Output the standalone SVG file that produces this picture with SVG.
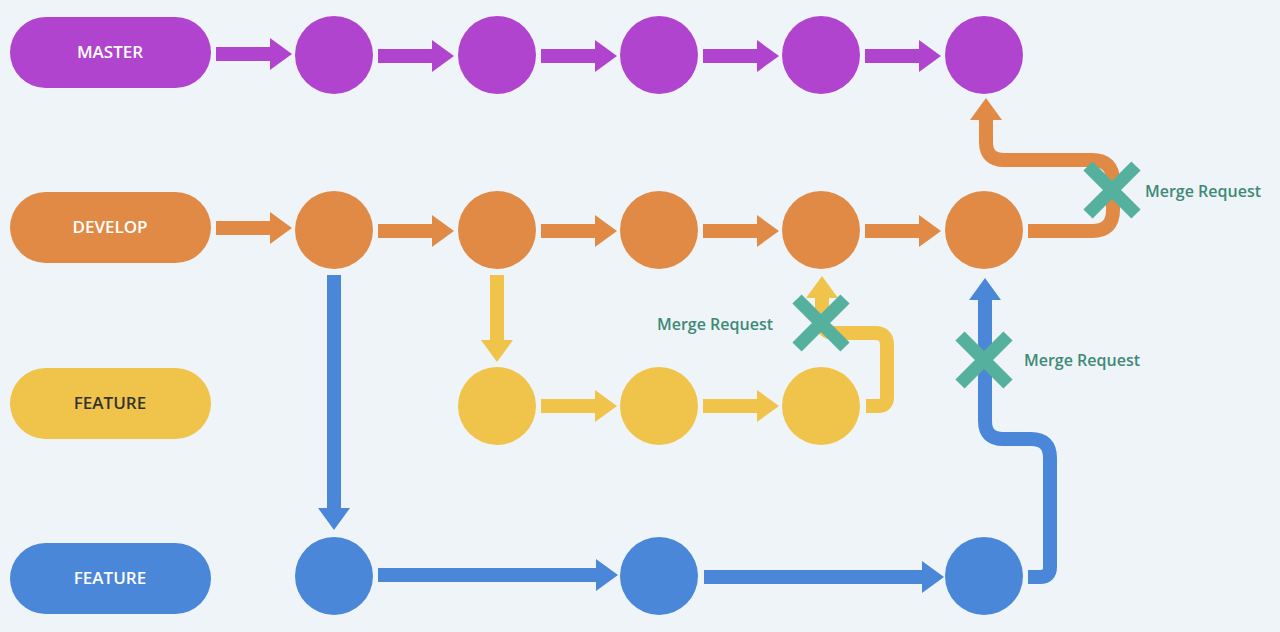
<svg xmlns="http://www.w3.org/2000/svg" width="1280" height="632" viewBox="0 0 1280 632">
<style>
.lbl{font-family:"Open Sans","Liberation Sans",sans-serif;font-size:17px;font-weight:600;text-anchor:middle;fill:#fff}
.mr{font-family:"Open Sans","Liberation Sans",sans-serif;font-size:16px;font-weight:600;fill:#3e8a76}
.s{fill:none;stroke-width:14;stroke-linejoin:round}
.x{stroke:#55b09e;stroke-width:13;fill:none}
</style>
<defs>
<marker id="hp" markerUnits="userSpaceOnUse" markerWidth="22" markerHeight="32" refX="2" refY="16" orient="auto"><path d="M0,0 L22,16 L0,32 Z" fill="#b044cf"/></marker>
<marker id="ho" markerUnits="userSpaceOnUse" markerWidth="22" markerHeight="32" refX="2" refY="16" orient="auto"><path d="M0,0 L22,16 L0,32 Z" fill="#e08a45"/></marker>
<marker id="hy" markerUnits="userSpaceOnUse" markerWidth="22" markerHeight="32" refX="2" refY="16" orient="auto"><path d="M0,0 L22,16 L0,32 Z" fill="#f0c44a"/></marker>
<marker id="hb" markerUnits="userSpaceOnUse" markerWidth="22" markerHeight="32" refX="2" refY="16" orient="auto"><path d="M0,0 L22,16 L0,32 Z" fill="#4a87d8"/></marker>
</defs>
<rect width="1280" height="632" fill="#eff4f8"/>
<g id="connectors">
<g stroke="#b044cf" class="s" marker-end="url(#hp)">
<path d="M216,54 H272"/><path d="M378,56 H434"/><path d="M541,56 H597"/><path d="M703,56 H759"/><path d="M865,56 H921"/>
</g>
<g stroke="#e08a45" class="s" marker-end="url(#ho)">
<path d="M216,228 H272"/><path d="M378,231 H434"/><path d="M541,231 H597"/><path d="M703,231 H759"/><path d="M865,231 H921"/>
<path d="M1028,231 H1092 Q1113,231 1113,210 V181 Q1113,160 1092,160 H1004 Q986,160 986,142 V118"/>
</g>
<g stroke="#f0c44a" class="s" marker-end="url(#hy)">
<path d="M497,275 V342"/><path d="M541,406 H597"/><path d="M703,406 H759"/>
<path d="M866,406 H878 Q887,406 887,397 V345 Q887,333 875,333 H835 Q822,333 822,320 V296"/>
</g>
<g stroke="#4a87d8" class="s" marker-end="url(#hb)">
<path d="M334,275 V510"/><path d="M378,575 H598"/><path d="M704,577 H924"/>
<path d="M1028,577 H1040 Q1050,577 1050,567 V458 Q1050,439 1031,439 H1003 Q985,439 985,421 V298"/>
</g>
<g class="x">
<path d="M1088,166 L1136,214 M1136,166 L1088,214"/>
<path d="M797,299 L845,347 M845,299 L797,347"/>
<path d="M960,336 L1008,384 M1008,336 L960,384"/>
</g>
<text class="mr" x="1145" y="197">Merge Request</text>
<text class="mr" x="657" y="330">Merge Request</text>
<text class="mr" x="1024" y="366">Merge Request</text>
</g>
<g id="master"><rect x="10" y="17" width="201" height="71" rx="35.5" fill="#b044cf"/><text class="lbl" x="110" y="58">MASTER</text></g>
<g id="develop"><rect x="10" y="192" width="201" height="71" rx="35.5" fill="#e08a45"/><text class="lbl" x="110" y="233">DEVELOP</text></g>
<g id="feature1"><rect x="10" y="368" width="201" height="71" rx="35.5" fill="#f0c44a"/><text class="lbl" x="110" y="409" fill="#333" style="fill:#333">FEATURE</text></g>
<g id="feature2"><rect x="10" y="543" width="201" height="71" rx="35.5" fill="#4a87d8"/><text class="lbl" x="110" y="584">FEATURE</text></g>
<g id="m-nodes" fill="#b044cf"><circle cx="334" cy="55" r="39"/><circle cx="497" cy="55" r="39"/><circle cx="659" cy="55" r="39"/><circle cx="821" cy="55" r="39"/><circle cx="984" cy="55" r="39"/></g>
<g id="d-nodes" fill="#e08a45"><circle cx="334" cy="230" r="39"/><circle cx="497" cy="230" r="39"/><circle cx="659" cy="230" r="39"/><circle cx="821" cy="230" r="39"/><circle cx="984" cy="230" r="39"/></g>
<g id="f1-nodes" fill="#f0c44a"><circle cx="497" cy="406" r="39"/><circle cx="659" cy="406" r="39"/><circle cx="821" cy="406" r="39"/></g>
<g id="f2-nodes" fill="#4a87d8"><circle cx="334" cy="576" r="39"/><circle cx="659" cy="576" r="39"/><circle cx="984" cy="576" r="39"/></g>
</svg>
